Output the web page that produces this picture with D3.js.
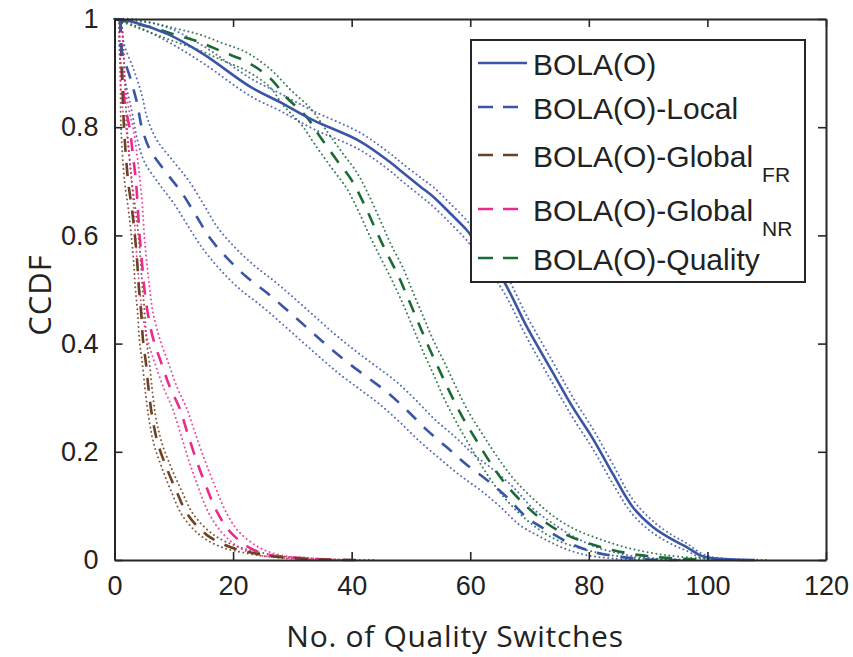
<!DOCTYPE html>
<html lang="en">
<meta charset="UTF-8">
<title>CCDF of quality switches</title>
<style>
body { margin: 0; background: #fff; }
svg text { font-family: "Liberation Sans", Arial, sans-serif; fill: #222; }
svg text.axlabel { font-family: "Open Sans", Lato, sans-serif; }
</style>
<script src="https://d3js.org/d3.v7.min.js"></script>
<body>
<svg id="chart" width="853" height="657"></svg>
<script>
// ticks
var xTicks = [0, 20, 40, 60, 80, 100, 120];
var yTicks = [0, 0.2, 0.4, 0.6, 0.8, 1];

// BOLA(O)  (solid) with dotted bounds
var bolaMid = [[0,1],[3,0.995],[9,0.972],[15,0.935],[23,0.874],[28,0.846],[33.5,0.813],[41.4,0.774],[46.4,0.736],[48.2,0.72],[51.6,0.69],[53.8,0.671],[56.6,0.641],[59.4,0.61],[60.3,0.597],[65.5,0.518],[69.6,0.43],[74,0.345],[77.3,0.282],[80.7,0.224],[84,0.16],[87.4,0.098],[90.8,0.061],[94.2,0.037],[96.5,0.024],[98.7,0.009],[101,0.003],[108,0]];
var bolaLo = [[0,1],[3,0.99],[9,0.958],[15,0.918],[23,0.857],[28,0.83],[33.5,0.797],[41.4,0.758],[46.4,0.72],[48.2,0.703],[51.6,0.673],[53.8,0.653],[56.6,0.623],[59.4,0.591],[60.3,0.578],[65.5,0.498],[69.6,0.41],[74,0.325],[77.3,0.263],[80.7,0.205],[84,0.142],[87.4,0.084],[90.8,0.05],[94.2,0.028],[96.5,0.017],[98.7,0.005],[101,0.001],[106,0]];
var bolaHi = [[0,1],[3,1],[9,0.984],[15,0.95],[23,0.89],[28,0.862],[33.5,0.83],[41.4,0.79],[46.4,0.752],[48.2,0.736],[51.6,0.707],[53.8,0.689],[56.6,0.659],[59.4,0.628],[60.3,0.615],[65.5,0.538],[69.6,0.45],[74,0.365],[77.3,0.301],[80.7,0.242],[84,0.178],[87.4,0.112],[90.8,0.072],[94.2,0.045],[96.5,0.031],[98.7,0.014],[101,0.005],[110,0]];

// BOLA(O)-Local
var localMid = [[1,1],[1.2,0.943],[2.6,0.893],[3.8,0.845],[4.6,0.8],[6,0.758],[8.8,0.715],[11.4,0.678],[13.9,0.634],[16.1,0.595],[19,0.558],[22.3,0.523],[25.7,0.494],[29.1,0.462],[32.5,0.429],[35.8,0.397],[39.2,0.366],[42.6,0.338],[46,0.31],[49.3,0.277],[52.7,0.24],[56.2,0.207],[59.4,0.176],[62.8,0.148],[66.2,0.116],[69.5,0.079],[72.9,0.055],[76.8,0.031],[80.7,0.015],[85.2,0.006],[90,0.001],[95,0]];
var localLo = [[0.8,1],[0.9,0.93],[2,0.875],[3,0.825],[3.8,0.78],[5,0.737],[7.6,0.694],[10.2,0.656],[12.7,0.612],[15,0.574],[17.8,0.537],[21,0.502],[24.4,0.473],[27.8,0.441],[31.2,0.408],[34.5,0.376],[37.8,0.345],[41.2,0.317],[44.6,0.289],[48,0.256],[51.4,0.22],[54.9,0.187],[58.2,0.157],[61.6,0.13],[65,0.099],[68.3,0.065],[71.8,0.043],[75.7,0.022],[79.6,0.009],[84,0.003],[89,0]];
var localHi = [[1.2,1],[1.6,0.955],[3.3,0.905],[4.6,0.86],[5.5,0.818],[7.1,0.777],[10,0.736],[12.6,0.7],[15.1,0.656],[17.3,0.616],[20.2,0.579],[23.6,0.544],[27,0.515],[30.4,0.483],[33.8,0.45],[37.1,0.418],[40.6,0.387],[44,0.359],[47.4,0.331],[50.6,0.298],[54,0.26],[57.5,0.227],[60.6,0.195],[64,0.166],[67.4,0.133],[70.7,0.094],[74,0.067],[78,0.04],[82,0.021],[86.5,0.009],[91,0.003],[98,0]];

// BOLA(O)-Global FR
var frMid = [[1,1],[1.1,0.95],[1.3,0.89],[1.6,0.8],[2.3,0.7],[2.9,0.652],[3.4,0.604],[3.8,0.555],[4.1,0.505],[4.5,0.457],[4.8,0.407],[5.3,0.364],[5.8,0.311],[6.4,0.262],[7.3,0.216],[8.8,0.17],[10.5,0.126],[12.4,0.083],[15.6,0.046],[19.5,0.024],[23.4,0.013],[27.4,0.006],[35,0.001],[42,0]];
var frLo = [[0.8,1],[0.9,0.95],[1,0.9],[1.1,0.8],[1.7,0.7],[2.3,0.652],[2.8,0.604],[3.2,0.555],[3.5,0.505],[3.9,0.457],[4.2,0.407],[4.7,0.364],[5.2,0.311],[5.8,0.262],[6.6,0.216],[8,0.17],[9.6,0.126],[11.4,0.083],[14.4,0.046],[18,0.024],[22,0.013],[26,0.006],[33,0.001],[40,0]];
var frHi = [[1.2,1],[1.5,0.95],[1.7,0.9],[2.1,0.8],[2.9,0.7],[3.5,0.652],[4,0.604],[4.4,0.555],[4.7,0.505],[5.1,0.457],[5.4,0.407],[5.9,0.364],[6.4,0.311],[7,0.262],[8,0.216],[9.6,0.17],[11.4,0.126],[13.4,0.083],[16.8,0.046],[21,0.024],[25,0.013],[29,0.006],[37,0.001],[44,0]];

// BOLA(O)-Global NR
var nrMid = [[1,1],[1.2,0.94],[1.3,0.89],[1.8,0.84],[2.6,0.795],[3.1,0.749],[3.6,0.702],[3.9,0.656],[4.2,0.604],[4.6,0.555],[5,0.505],[5.6,0.457],[6.5,0.41],[7.9,0.364],[9.4,0.318],[11,0.28],[12.3,0.235],[13.8,0.185],[15.5,0.135],[17.3,0.089],[19.5,0.052],[22.9,0.022],[26.2,0.009],[30.8,0.004],[38,0]];
var nrLo = [[0.8,1],[0.9,0.94],[1,0.89],[1.3,0.84],[2,0.795],[2.5,0.749],[2.9,0.702],[3.2,0.656],[3.5,0.604],[3.8,0.555],[4.2,0.505],[4.7,0.457],[5.5,0.41],[6.8,0.364],[8.3,0.318],[9.8,0.28],[11.1,0.235],[12.5,0.185],[14.1,0.135],[15.8,0.089],[18,0.052],[21.2,0.022],[24.5,0.009],[29,0.004],[36,0]];
var nrHi = [[1.2,1],[1.5,0.94],[1.7,0.89],[2.3,0.84],[3.2,0.795],[3.8,0.749],[4.3,0.702],[4.7,0.656],[5,0.604],[5.4,0.555],[5.9,0.505],[6.5,0.457],[7.6,0.41],[9.1,0.364],[10.6,0.318],[12.2,0.28],[13.6,0.235],[15.2,0.185],[17,0.135],[18.8,0.089],[21,0.052],[24.6,0.022],[28,0.009],[32.6,0.004],[40,0]];

// BOLA(O)-Quality
var qualMid = [[0,1],[6,0.985],[10.5,0.97],[14.4,0.957],[18.3,0.939],[22.3,0.921],[26.2,0.891],[29.1,0.854],[32.4,0.819],[34.7,0.782],[37.5,0.739],[40,0.702],[42,0.66],[44,0.612],[45.8,0.57],[47.8,0.527],[49.5,0.484],[51.2,0.44],[52.9,0.396],[54.8,0.351],[56.6,0.309],[58.8,0.262],[61.1,0.22],[63.5,0.178],[66.2,0.137],[69.6,0.098],[72.9,0.068],[76.3,0.046],[80.2,0.03],[84.1,0.018],[88.6,0.009],[93.2,0.004],[100,0]];
var qualLo = [[0,1],[6,0.975],[10.5,0.957],[14.4,0.942],[18.3,0.923],[22.3,0.904],[26.2,0.874],[28.5,0.84],[31.5,0.805],[33.8,0.768],[36.6,0.725],[39.1,0.688],[41.1,0.646],[43.1,0.598],[45,0.556],[46.9,0.515],[48.7,0.472],[50.4,0.428],[52.1,0.384],[54,0.338],[55.7,0.296],[57.9,0.25],[60.1,0.208],[62.4,0.166],[65,0.125],[68.2,0.087],[71.4,0.058],[74.6,0.037],[78.4,0.022],[82.2,0.012],[86.5,0.005],[91,0.002],[97,0]];
var qualHi = [[0,1],[6,0.993],[10.5,0.982],[14.4,0.971],[18.3,0.955],[22.3,0.938],[26.2,0.908],[29.8,0.868],[33.2,0.833],[35.6,0.796],[38.4,0.753],[40.9,0.716],[42.9,0.674],[44.9,0.626],[46.6,0.584],[48.7,0.539],[50.3,0.496],[52,0.452],[53.7,0.408],[55.7,0.364],[57.5,0.322],[59.7,0.274],[62.1,0.232],[64.6,0.19],[67.4,0.149],[71,0.109],[74.4,0.078],[78,0.055],[82,0.038],[86,0.024],[90.6,0.013],[95.4,0.006],[103,0]];

var series = [
  {name: "BOLA(O)", sub: "", color: "#3a55a6", dash: null, mid: bolaMid, lo: bolaLo, hi: bolaHi},
  {name: "BOLA(O)-Local", sub: "", color: "#3a55a6", dash: "13,11", mid: localMid, lo: localLo, hi: localHi},
  {name: "BOLA(O)-Global", sub: "FR", color: "#6b4223", dash: "13,11", mid: frMid, lo: frLo, hi: frHi},
  {name: "BOLA(O)-Global", sub: "NR", color: "#ec2a8e", dash: "13,11", mid: nrMid, lo: nrLo, hi: nrHi},
  {name: "BOLA(O)-Quality", sub: "", color: "#1b6a35", dash: "13,11", mid: qualMid, lo: qualLo, hi: qualHi}
];

var svg = d3.select("#chart");
var plotL = 114.5, plotR = 826, plotT = 19, plotB = 560;

var x = d3.scaleLinear().domain([0, 120]).range([plotL, plotR]);
var y = d3.scaleLinear().domain([0, 1]).range([plotB, plotT]);

var line = d3.line()
  .curve(d3.curveCatmullRom.alpha(0.5))
  .x(d => x(d[0])).y(d => y(d[1]));

var plot = svg.append("g");

// bounds first (dotted), then the main curves
series.forEach(s => {
  [s.lo, s.hi].forEach(b => {
    plot.append("path")
      .attr("d", line(b))
      .attr("fill", "none")
      .attr("stroke", s.color)
      .attr("stroke-width", 2)
      .attr("stroke-linecap", "round")
      .attr("stroke-dasharray", "0.01,4.4")
      .attr("opacity", 0.85);
  });
});
series.slice().reverse().forEach(s => {
  plot.append("path")
    .attr("d", line(s.mid))
    .attr("fill", "none")
    .attr("stroke", s.color)
    .attr("stroke-width", 2.6)
    .attr("stroke-dasharray", s.dash);
});

// axes (box with inward ticks)
var tickLen = 8;
var axColor = "#262626";
var axisB = d3.axisBottom(x).tickValues(xTicks).tickSizeInner(-tickLen).tickSizeOuter(0).tickPadding(16).tickFormat(d3.format("d"));
var axisL = d3.axisLeft(y).tickValues(yTicks).tickSizeInner(-tickLen).tickSizeOuter(0).tickPadding(16).tickFormat(d => d === 0 || d === 1 ? d : d3.format(".1f")(d));
var axisT = d3.axisTop(x).tickValues(xTicks).tickSizeInner(-tickLen).tickSizeOuter(0).tickFormat("");
var axisR = d3.axisRight(y).tickValues(yTicks).tickSizeInner(-tickLen).tickSizeOuter(0).tickFormat("");

function styleAxis(g) {
  g.select(".domain").attr("stroke", axColor).attr("stroke-width", 2);
  g.selectAll(".tick line").attr("stroke", axColor).attr("stroke-width", 1.6);
  g.selectAll(".tick text").attr("font-size", 27).attr("fill", "#222");
}
svg.append("g").attr("transform", `translate(0,${plotB})`).call(axisB).call(styleAxis);
svg.append("g").attr("transform", `translate(${plotL},0)`).call(axisL).call(styleAxis);
svg.append("g").attr("transform", `translate(0,${plotT})`).call(axisT).call(styleAxis);
svg.append("g").attr("transform", `translate(${plotR},0)`).call(axisR).call(styleAxis);

// axis titles
svg.append("text")
  .attr("class", "axlabel")
  .attr("x", 455)
  .attr("y", 647)
  .attr("text-anchor", "middle")
  .attr("font-size", 30)
  .attr("letter-spacing", 0.7)
  .text("No. of Quality Switches");
svg.append("text")
  .attr("class", "axlabel")
  .attr("transform", "translate(51,295) rotate(-90)")
  .attr("text-anchor", "middle")
  .attr("font-size", 31)
  .attr("letter-spacing", 1)
  .text("CCDF");

// legend
var lg = svg.append("g");
lg.append("rect")
  .attr("x", 471).attr("y", 40).attr("width", 334).attr("height", 242)
  .attr("fill", "#fff").attr("stroke", axColor).attr("stroke-width", 2);
var rowY = [63, 107, 155, 209, 258];
series.forEach((s, i) => {
  var ry = rowY[i];
  lg.append("line")
    .attr("x1", 478).attr("x2", 527).attr("y1", ry).attr("y2", ry)
    .attr("stroke", s.color).attr("stroke-width", 2.6)
    .attr("stroke-dasharray", s.dash ? "15,10" : null);
  var t = lg.append("text")
    .attr("x", 533).attr("y", ry + 12)
    .attr("font-size", 30);
  t.append("tspan").text(s.name);
  if (s.sub) {
    t.append("tspan").attr("dx", 9).attr("dy", 15).attr("font-size", 21).text(s.sub);
  }
});
</script>
</body>
</html>
